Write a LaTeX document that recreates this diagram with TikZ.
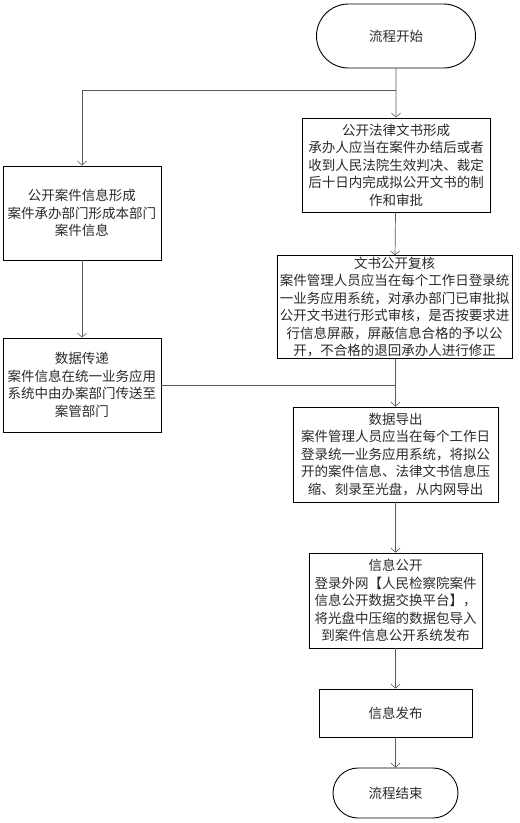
\documentclass[tikz,border=0pt]{standalone}
\usepackage{fontspec}
\newfontfamily\cjk{Noto Sans CJK SC}
\usetikzlibrary{arrows.meta,shapes.misc}

\definecolor{linegray}{HTML}{5A5A5A}
\definecolor{textgray}{HTML}{2A2A2A}

\tikzset{
	procbox/.style={draw=black,line width=0.9pt,rectangle,align=center,inner sep=1pt,
		text=textgray,font=\cjk\fontsize{13.5pt}{17.5pt}\selectfont},
	termbox/.style={procbox,rounded rectangle},
	flow/.style={color=linegray,line width=0.7pt}
}

\begin{document}
\begin{tikzpicture}[x=1pt,y=1pt,>={Straight Barb[length=4pt,width=9pt,line width=0.6pt]}]

\useasboundingbox (0,0) rectangle (520,-823);

% start and end
\node[termbox,minimum width=161pt,minimum height=64pt] (start) at (396,-36) {流程开始};
\node[termbox,minimum width=127pt,minimum height=50pt] (finish) at (395.5,-793) {流程结束};

% right column
\node[procbox,minimum width=188pt,minimum height=94pt] (lawdoc) at (396,-165)
	{公开法律文书形成\\承办人应当在案件办结后或者\\收到人民法院生效判决、裁定\\后十日内完成拟公开文书的制\\作和审批};
\node[procbox,minimum width=235pt,minimum height=102pt] (review) at (394.5,-307)
	{文书公开复核\\案件管理人员应当在每个工作日登录统\\一业务应用系统，对承办部门已审批拟\\公开文书进行形式审核，是否按要求进\\行信息屏蔽，屏蔽信息合格的予以公\\开，不合格的退回承办人进行修正};
\node[procbox,minimum width=205pt,minimum height=95pt] (export) at (395.5,-454.5)
	{数据导出\\案件管理人员应当在每个工作日\\登录统一业务应用系统，将拟公\\开的案件信息、法律文书信息压\\缩、刻录至光盘，从内网导出};
\node[procbox,minimum width=173pt,minimum height=95pt] (publicinfo) at (395.5,-600.5)
	{信息公开\\登录外网【人民检察院案件\\信息公开数据交换平台】，\\将光盘中压缩的数据包导入\\到案件信息公开系统发布};
\node[procbox,minimum width=153pt,minimum height=48pt] (release) at (395.5,-713) {信息发布};

% left column
\node[procbox,minimum width=158pt,minimum height=94pt] (caseinfo) at (82,-213)
	{公开案件信息形成\\案件承办部门形成本部门\\案件信息};
\node[procbox,minimum width=158pt,minimum height=94pt] (transfer) at (82,-385)
	{数据传递\\案件信息在统一业务应用\\系统中由办案部门传送至\\案管部门};

\coordinate (split) at (start.south |- 0,-90);
\coordinate (merge) at (export.north |- transfer.east);

\draw[->,flow] (start) -- (lawdoc);
\draw[->,flow] (split) -| (caseinfo.north);
\draw[->,flow] (caseinfo) -- (transfer);
\draw[->,flow] (lawdoc) -- (review);
\draw[->,flow] (review.south -| export.north) -- (export.north);
\draw[flow] (transfer.east) -- (merge);
\draw[->,flow] (export) -- (publicinfo);
\draw[->,flow] (publicinfo) -- (release);
\draw[->,flow] (release) -- (finish);

\end{tikzpicture}
\end{document}
